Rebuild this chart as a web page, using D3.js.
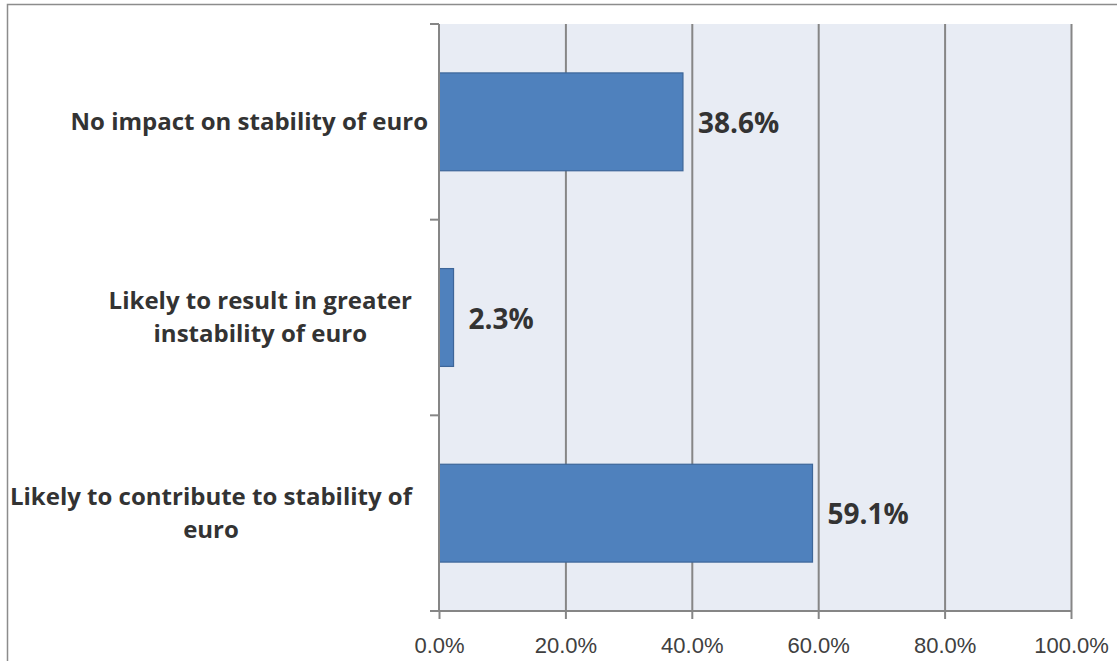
<!DOCTYPE html>
<html>
<head>
<meta charset="utf-8">
<script src="https://cdn.jsdelivr.net/npm/d3@7"></script>
<style>
  body { margin: 0; background: #fff; }
  svg { display: block; font-family: "Open Sans", Lato, sans-serif; }
  .cat-label { font-weight: bold; font-size: 24px; fill: #333; }
  .value-label { font-weight: bold; font-size: 28px; fill: #333; }
  .x-axis text { font-size: 22px; fill: #404040; }
</style>
</head>
<body>
<svg id="chart"></svg>
<script>
const CATEGORIES = [
  ["No impact on stability of euro"],
  ["Likely to result in greater", "instability of euro"],
  ["Likely to contribute to stability of", "euro"]
];
const VALUES = [0.386, 0.023, 0.591];
const X_TICKS = [0, 0.2, 0.4, 0.6, 0.8, 1.0];

const WIDTH = 1117, HEIGHT = 661;
const PLOT = {left: 439, top: 24, right: 1071, bottom: 611};
const PLOT_W = PLOT.right - PLOT.left;
const PLOT_H = PLOT.bottom - PLOT.top;

let svg = d3.select("#chart")
            .attr("width", WIDTH)
            .attr("height", HEIGHT);

// outer chart border, runs off the right and bottom of the picture
svg.append("rect")
   .attr("x", 7.5).attr("y", 4.5)
   .attr("width", 1200).attr("height", 800)
   .attr("fill", "none")
   .attr("stroke", "#8c8c8c")
   .attr("stroke-width", 1.5);

let chart = svg.append("g")
               .attr("transform", `translate(${PLOT.left},${PLOT.top})`);

let x = d3.scaleLinear().domain([0, 1]).range([0, PLOT_W]);
let y = d3.scaleBand()
          .domain(d3.range(CATEGORIES.length))
          .range([0, PLOT_H])
          .paddingInner(0.5)
          .paddingOuter(0.25);

chart.append("rect")
     .attr("width", PLOT_W)
     .attr("height", PLOT_H)
     .attr("fill", "#e8ecf4");

// vertical gridlines
chart.append("g")
     .attr("class", "grid")
     .call(d3.axisBottom(x).tickValues(X_TICKS.slice(1)).tickSize(PLOT_H).tickFormat(""))
     .call(g => g.select(".domain").remove())
     .call(g => g.selectAll("line").attr("stroke", "#868686").attr("stroke-width", 2));

// bars
chart.selectAll(".bar")
     .data(VALUES)
     .enter().append("rect")
     .attr("class", "bar")
     .attr("x", 0)
     .attr("y", (d, i) => y(i))
     .attr("width", d => x(d))
     .attr("height", y.bandwidth())
     .attr("fill", "#4f81bd")
     .attr("stroke", "#3d6699")
     .attr("stroke-width", 1.2);

chart.selectAll(".value-label")
     .data(VALUES)
     .enter().append("text")
     .attr("class", "value-label")
     .attr("x", d => x(d) + 15)
     .attr("y", (d, i) => y(i) + y.bandwidth() / 2 + 11)
     .text(d => d3.format(".1%")(d));

// x axis
chart.append("g")
     .attr("class", "x-axis")
     .attr("transform", `translate(0,${PLOT_H})`)
     .call(d3.axisBottom(x).tickValues(X_TICKS).tickSize(8).tickSizeOuter(0).tickPadding(18)
             .tickFormat(d3.format(".1%")))
     .call(g => g.select(".domain").attr("stroke", "#868686").attr("stroke-width", 2)
                 .attr("d", `M-9,0H${PLOT_W}`))
     .call(g => g.selectAll(".tick line").attr("stroke", "#868686").attr("stroke-width", 2));

// y axis: line with ticks at the category boundaries
let bounds = d3.range(CATEGORIES.length + 1).map(i => i * y.step());
chart.append("line")
     .attr("x1", 0).attr("x2", 0)
     .attr("y1", 0).attr("y2", PLOT_H)
     .attr("stroke", "#868686").attr("stroke-width", 2);
chart.selectAll(".ytick")
     .data(bounds)
     .enter().append("line")
     .attr("x1", -9).attr("x2", 0)
     .attr("y1", d => d).attr("y2", d => d)
     .attr("stroke", "#868686").attr("stroke-width", 2);

// category labels, lines centred inside a right-aligned block
CATEGORIES.forEach((lines, i) => {
  let g = chart.append("g");
  let cy = y(i) + y.bandwidth() / 2;
  let lineH = 33;
  let texts = lines.map((t, j) => g.append("text")
      .attr("class", "cat-label")
      .attr("text-anchor", "middle")
      .attr("y", cy + (j - (lines.length - 1) / 2) * lineH + 8)
      .text(t));
  let maxW = d3.max(texts, t => t.node().getComputedTextLength());
  let right = lines.length > 1 ? -27 : -11;
  texts.forEach(t => t.attr("x", right - maxW / 2));
});
</script>
</body>
</html>
